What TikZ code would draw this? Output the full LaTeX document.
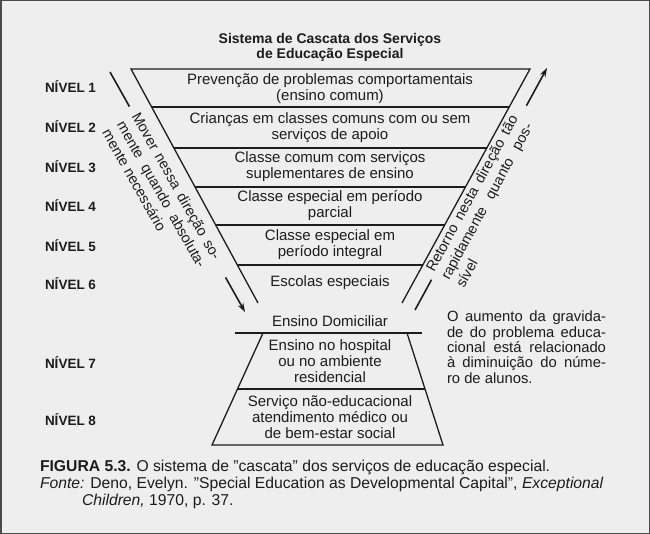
\documentclass[tikz,border=0pt]{standalone}
\usepackage{fontspec}
\setmainfont{Liberation Sans}
\usetikzlibrary{calc,arrows.meta}
\definecolor{ink}{HTML}{1C1C1C}
\definecolor{paper}{HTML}{EEEEEE}
\definecolor{frame}{HTML}{4A4A4A}
\begin{document}
\begin{tikzpicture}[x=1pt,y=-1pt,
  every node/.style={inner sep=0pt, outer sep=0pt, text=ink},
  bandtxt/.style={align=center, font=\fontsize{15}{16}\selectfont},
  ttltxt/.style={align=center, font=\bfseries\fontsize{14}{15.5}\selectfont},
  lvltxt/.style={anchor=base west, font=\bfseries\fontsize{13.5}{16}\selectfont},
  trapline/.style={line width=1.3pt, draw=ink},
  arrline/.style={line width=1.6pt, draw=ink},
  arrtip/.style={-{Stealth[length=9pt,width=6pt]}},
  sidetxt/.style={anchor=base west, font=\fontsize{14.5}{16}\selectfont},
  notetxt/.style={anchor=base west, font=\fontsize{14.8}{15.3}\selectfont},
  captxt/.style={anchor=base west, align=left, font=\fontsize{15.7}{17}\selectfont},
]
\useasboundingbox (0,0) rectangle (650,534);
\fill[paper] (0,0) rectangle (650,534);
\draw[frame, line width=1.5pt] (0.75,0.75) rectangle (649.25,533.25);

% title
\node[ttltxt] (title) at (330,47.5) {Sistema de Cascata dos Serviços\\de Educação Especial};

% upper trapezoid
\coordinate (t1l) at (131,69);
\coordinate (t1r) at (530,69);
\coordinate (b1l) at (258,303);
\coordinate (b1r) at (402,303);
\draw[trapline] (b1l) -- (t1l) -- (t1r) -- (b1r);
\foreach \f in {0.1624,0.3376,0.5043,0.6667,0.8376}
  \draw[trapline] ($(t1l)!\f!(b1l)$) -- ($(t1r)!\f!(b1r)$);

% lower trapezoid
\coordinate (ed1) at (235,333);
\coordinate (ed2) at (422,333);
\coordinate (t2l) at (263,333);
\coordinate (t2r) at (407,333);
\coordinate (b2l) at (212,445);
\coordinate (b2r) at (443,445);
\draw[trapline] (ed1) -- (ed2);
\draw[trapline] (t2l) -- (b2l) -- (b2r) -- (t2r);
\draw[trapline] ($(t2l)!0.5!(b2l)$) -- ($(t2r)!0.5!(b2r)$);

% band texts
\node[bandtxt] (n1) at (330,88.5) {Prevenção de problemas comportamentais\\(ensino comum)};
\node[bandtxt] (n2) at (330,127.5) {Crianças em classes comuns com ou sem\\serviços de apoio};
\node[bandtxt] (n3) at (330,167) {Classe comum com serviços\\suplementares de ensino};
\node[bandtxt] (n4) at (330,206) {Classe especial em período\\parcial};
\node[bandtxt] (n5) at (330,245) {Classe especial em\\período integral};
\node[bandtxt] (n6) at (330,283) {Escolas especiais};
\node[bandtxt] (dom) at (330,321) {Ensino Domiciliar};
\node[bandtxt] (n7) at (330,361.5) {Ensino no hospital\\ou no ambiente\\residencial};
\node[bandtxt] (n8) at (330,417) {Serviço não-educacional\\atendimento médico ou\\de bem-estar social};

% level labels
\node[lvltxt] (l1) at (45,93) {NÍVEL 1};
\node[lvltxt] (l2) at (45,133) {NÍVEL 2};
\node[lvltxt] (l3) at (45,173) {NÍVEL 3};
\node[lvltxt] (l4) at (45,212) {NÍVEL 4};
\node[lvltxt] (l5) at (45,252) {NÍVEL 5};
\node[lvltxt] (l6) at (45,290) {NÍVEL 6};
\node[lvltxt] (l7) at (45,368) {NÍVEL 7};
\node[lvltxt] (l8) at (45,425) {NÍVEL 8};

% left arrow
\coordinate (la) at (110,72);
\coordinate (lb) at (245,312);
\draw[arrline] (la) -- ($(la)!0.144!(lb)$);
\draw[arrline, arrtip] ($(la)!0.856!(lb)$) -- (lb);
\node[sidetxt, rotate=-60.6] (m1) at (131.4,116.2) {\makebox[166pt][s]{Mover nessa direção so-}};
\node[sidetxt, rotate=-60.6] (m2) at (116.6,124.5) {\makebox[166pt][s]{mente quando absoluta-}};
\node[sidetxt, rotate=-60.6] (m3) at (101.8,132.8) {mente necessário};

% right arrow
\coordinate (ra) at (415,310);
\coordinate (rb) at (547,68);
\draw[arrline] (ra) -- ($(ra)!0.125!(rb)$);
\draw[arrline, arrtip] ($(ra)!0.844!(rb)$) -- (rb);
\node[sidetxt, rotate=61.4] (r1) at (434,273) {\makebox[176pt][s]{Retorno nesta direção tão}};
\node[sidetxt, rotate=61.4] (r2) at (449,281) {\makebox[176pt][s]{rapidamente quanto pos-}};
\node[sidetxt, rotate=61.4] (r3) at (464,289) {sível};

% right note
\node[notetxt] (o1) at (447,322) {\makebox[159pt][s]{O aumento da gravida-}};
\node[notetxt] (o2) at (447,337.3) {\makebox[159pt][s]{de do problema educa-}};
\node[notetxt] (o3) at (447,352.6) {\makebox[159pt][s]{cional está relacionado}};
\node[notetxt] (o4) at (447,367.9) {\makebox[159pt][s]{à diminuição do núme-}};
\node[notetxt] (o5) at (447,383.2) {ro de alunos.};

% caption
\node[captxt] (c1) at (40,471) {\textbf{FIGURA 5.3.} O sistema de ''cascata'' dos serviços de educação especial.};
\node[captxt] (c2) at (40,488) {\textit{Fonte:} Deno, Evelyn. ''Special Education as Developmental Capital'', \textit{Exceptional}};
\node[captxt] (c3) at (82,505) {\textit{Children,} 1970, p. 37.};
\end{tikzpicture}
\end{document}
